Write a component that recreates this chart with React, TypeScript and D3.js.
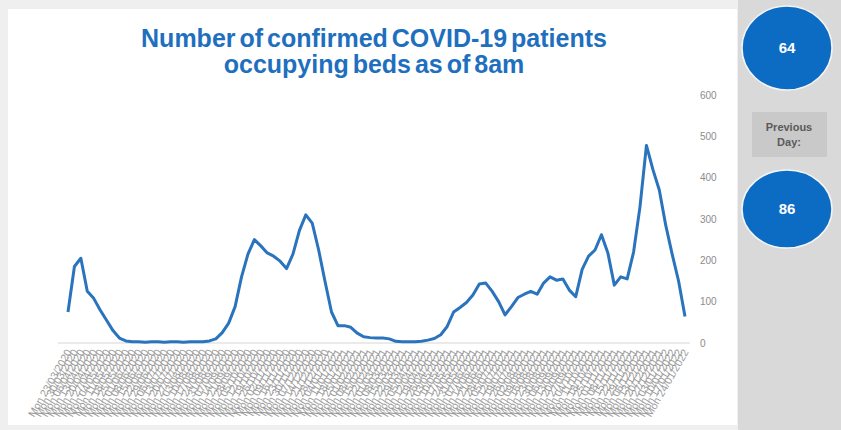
import React, { useRef, useEffect } from 'react';
import * as d3 from 'd3';

// Weekly readings of confirmed COVID-19 patients in beds
const bedCounts = [
  75, 185, 205, 125, 108, 80, 55, 30, 12, 5,
  3, 3, 2, 3, 3, 2, 3, 3, 2, 3,
  3, 3, 5, 10, 25, 48, 88, 160, 215, 250,
  235, 218, 210, 198, 180, 215, 272, 310, 290, 225,
  148, 75, 42, 42, 38, 24, 15, 13, 12, 12,
  10, 4, 3, 3, 3, 4, 7, 11, 20, 40,
  75, 86, 98, 116, 143, 145, 125, 100, 68, 88,
  110, 118, 125, 118, 145, 160, 152, 155, 128, 112,
  178, 210, 225, 262, 218, 140, 160, 155, 220, 330,
  478, 420, 370, 285, 215, 150, 64,
];

const firstWeek = '2020-03-23';
const yTicks = [0, 100, 200, 300, 400, 500, 600];
const titleLines = ['Number of confirmed COVID-19 patients', 'occupying beds as of 8am'];
const currentValue = '64';
const previousValue = '86';
const previousLabel = ['Previous', 'Day:'];

const App = () => {
  const svgRef = useRef<SVGSVGElement>(null);

  useEffect(() => {
    const svg = d3.select(svgRef.current);
    svg.selectAll('*').remove();

    const width = 841;
    const height = 430;
    const font = 'Liberation Sans, Arial, sans-serif';

    svg.attr('width', width).attr('height', height);

    // Background, chart box and side panel
    svg.append('rect').attr('width', width).attr('height', height).attr('fill', '#efefef');
    svg
      .append('rect')
      .attr('x', 8)
      .attr('y', 9)
      .attr('width', 729)
      .attr('height', 416)
      .attr('fill', '#ffffff');
    svg
      .append('rect')
      .attr('x', 738)
      .attr('y', 0)
      .attr('width', width - 738)
      .attr('height', height)
      .attr('fill', '#d9d9d9');

    // Title
    svg
      .append('text')
      .attr('x', 374)
      .attr('y', 47)
      .attr('text-anchor', 'middle')
      .style('font-family', font)
      .style('font-weight', 'bold')
      .style('font-size', '25px')
      .style('word-spacing', '-3px')
      .attr('fill', '#1f6fbf')
      .selectAll('tspan')
      .data(titleLines)
      .enter()
      .append('tspan')
      .attr('x', 374)
      .attr('dy', (_, i) => (i === 0 ? 0 : 26))
      .text((d) => d);

    // Scales
    const start = d3.timeParse('%Y-%m-%d')(firstWeek) as Date;
    const dates = bedCounts.map((_, i) => d3.timeWeek.offset(start, i));
    const fmt = d3.timeFormat('%a %d/%m/%Y');

    const xScale = d3
      .scalePoint<number>()
      .domain(bedCounts.map((_, i) => i))
      .range([68, 685]);

    const yScale = d3.scaleLinear().domain([0, 600]).range([343, 95]);

    // Baseline
    svg
      .append('line')
      .attr('x1', 58)
      .attr('x2', 690)
      .attr('y1', yScale(0))
      .attr('y2', yScale(0))
      .attr('stroke', '#e3e3e3')
      .attr('stroke-width', 1.5);

    // Right-hand axis labels
    svg
      .append('g')
      .selectAll('text')
      .data(yTicks)
      .enter()
      .append('text')
      .attr('x', 700)
      .attr('y', (d) => yScale(d) + 3.5)
      .style('font-family', font)
      .style('font-size', '10px')
      .attr('fill', '#8c8c8c')
      .text((d) => d);

    // Date labels
    svg
      .append('g')
      .selectAll('text')
      .data(dates)
      .enter()
      .append('text')
      .attr('transform', (_, i) => `translate(${xScale(i)! + 4}, 352) rotate(-60)`)
      .attr('text-anchor', 'end')
      .style('font-family', font)
      .style('font-size', '10.5px')
      .attr('fill', '#9a9a9a')
      .text((d) => fmt(d));

    // Line
    const line = d3
      .line<number>()
      .x((_, i) => xScale(i)!)
      .y((d) => yScale(d));

    svg
      .append('path')
      .datum(bedCounts)
      .attr('d', line)
      .attr('fill', 'none')
      .attr('stroke', '#2a73bd')
      .attr('stroke-width', 3)
      .attr('stroke-linejoin', 'round');

    // Side panel: current and previous day
    const badge = (cy: number, ry: number, value: string) => {
      svg
        .append('ellipse')
        .attr('cx', 787)
        .attr('cy', cy)
        .attr('rx', 45)
        .attr('ry', ry)
        .attr('fill', '#0c6cc4')
        .attr('stroke', '#f4f4f4')
        .attr('stroke-width', 1.5);
      svg
        .append('text')
        .attr('x', 787)
        .attr('y', cy + 5)
        .attr('text-anchor', 'middle')
        .style('font-family', font)
        .style('font-weight', 'bold')
        .style('font-size', '15px')
        .attr('fill', '#ffffff')
        .text(value);
    };

    badge(48, 42, currentValue);

    svg
      .append('rect')
      .attr('x', 752)
      .attr('y', 112)
      .attr('width', 75)
      .attr('height', 45)
      .attr('fill', '#c9c9c9');
    svg
      .append('text')
      .attr('text-anchor', 'middle')
      .style('font-family', font)
      .style('font-weight', 'bold')
      .style('font-size', '11px')
      .attr('fill', '#5a5a5a')
      .selectAll('tspan')
      .data(previousLabel)
      .enter()
      .append('tspan')
      .attr('x', 789)
      .attr('y', (_, i) => 131 + i * 15)
      .text((d) => d);

    badge(209, 39, previousValue);
  }, []);

  return (
    <svg ref={svgRef} style={{ position: 'absolute', left: 0, top: 0, display: 'block' }} />
  );
};

export default App;
